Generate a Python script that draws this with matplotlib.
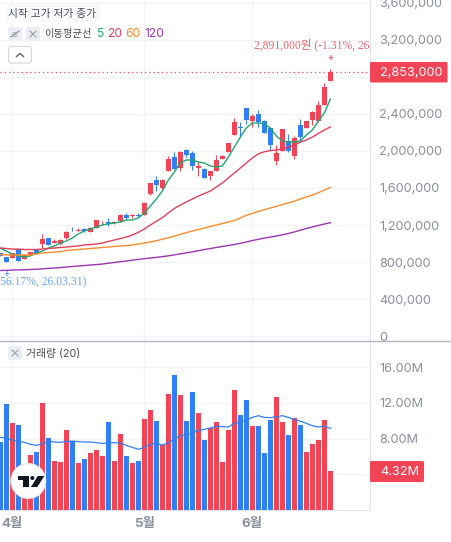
import matplotlib
matplotlib.use("Agg")
import matplotlib.pyplot as plt
from matplotlib.patches import Circle, FancyBboxPatch, Polygon

plt.rcParams['font.family'] = ['Inter', 'Noto Sans CJK KR', 'DejaVu Sans']

# daily prices, in thousands of won
opens = [894, 851, 846, 937, 836, 872, 937, 998, 1056, 1009, 995, 1059, 1149, 1138, 1157, 1128,
         1171, 1218, 1236, 1222, 1240, 1308, 1297, 1308, 1311, 1535, 1683, 1600, 1784, 1935, 1816, 2008,
         1978, 1819, 1805, 1730, 1784, 1914, 1989, 2173, 2259, 2465, 2324, 2400, 2324, 2249, 1892, 2000,
         2108, 1946, 2281, 2249, 2335, 2324, 2497, 2757]
highs = [900, 851, 897, 937, 879, 908, 937, 1103, 1056, 1045, 1049, 1135, 1178, 1168, 1164, 1175,
         1254, 1243, 1276, 1243, 1319, 1330, 1322, 1330, 1445, 1657, 1730, 1697, 1946, 1989, 2000, 2022,
         2000, 1892, 1816, 1784, 1957, 1957, 2086, 2357, 2314, 2465, 2400, 2443, 2335, 2249, 2065, 2238,
         2184, 2162, 2346, 2324, 2432, 2541, 2735, 2891]
lows = [860, 803, 846, 814, 836, 872, 886, 948, 987, 1002, 987, 1052, 1135, 1132, 1121, 1124,
        1168, 1197, 1189, 1208, 1232, 1268, 1279, 1283, 1308, 1524, 1571, 1592, 1784, 1805, 1784, 1938,
        1795, 1730, 1708, 1686, 1784, 1914, 1989, 2173, 2151, 2292, 2259, 2259, 2195, 2011, 1849, 2000,
        1989, 1914, 2097, 2249, 2281, 2314, 2497, 2757]
closes = [865, 803, 897, 814, 879, 908, 886, 1045, 987, 1027, 1038, 1121, 1143, 1146, 1135, 1168,
          1251, 1225, 1208, 1229, 1305, 1276, 1305, 1297, 1438, 1654, 1636, 1690, 1910, 1805, 1989, 1960,
          1838, 1838, 1708, 1784, 1903, 1946, 2086, 2314, 2249, 2335, 2378, 2314, 2195, 2065, 1978, 2238,
          2000, 2141, 2151, 2324, 2422, 2497, 2692, 2853]

ma5 = [951, 919, 886, 865, 854, 865, 897, 919, 951, 973, 1005, 1027, 1059, 1103, 1135, 1157,
       1178, 1200, 1211, 1222, 1232, 1254, 1254, 1276, 1330, 1405, 1481, 1567, 1686, 1773, 1870, 1903,
       1903, 1881, 1870, 1838, 1827, 1838, 1935, 2043, 2151, 2249, 2303, 2303, 2292, 2249, 2162, 2108,
       2097, 2097, 2108, 2173, 2227, 2324, 2411, 2562]
ma20 = [951, 946, 940, 940, 935, 935, 935, 940, 946, 951, 957, 962, 968, 973, 984, 989,
        995, 1005, 1022, 1038, 1054, 1070, 1092, 1120, 1157, 1200, 1240, 1280, 1330, 1378, 1416, 1449,
        1481, 1513, 1540, 1567, 1611, 1654, 1708, 1762, 1816, 1870, 1925, 1968, 1992, 2004, 2012, 2022,
        2043, 2065, 2097, 2119, 2151, 2189, 2227, 2259]
ma60 = [881, 876, 876, 876, 876, 876, 886, 897, 903, 908, 913, 924, 930, 935, 940, 946,
        951, 957, 962, 968, 973, 978, 984, 995, 1005, 1016, 1030, 1046, 1062, 1080, 1098, 1117,
        1135, 1151, 1167, 1184, 1200, 1216, 1232, 1249, 1277, 1305, 1326, 1346, 1365, 1384, 1402, 1420,
        1438, 1459, 1481, 1503, 1524, 1549, 1578, 1607]
ma120 = [708, 710, 713, 715, 717, 719, 722, 726, 731, 735, 740, 746, 751, 757, 762, 768,
         772, 778, 787, 795, 803, 811, 820, 828, 836, 843, 850, 858, 867, 877, 888, 899,
         910, 922, 935, 946, 957, 968, 978, 989, 1002, 1016, 1032, 1045, 1059, 1070, 1081, 1094,
         1108, 1125, 1144, 1162, 1178, 1195, 1211, 1225]

# volume, in millions of shares
volume = [7.62, 11.88, 9.75, 9.52, 2.6, 6.16, 6.5, 12.0, 8.07, 5.49, 5.38, 8.96, 7.73, 5.27, 5.71, 6.39,
          6.72, 6.05, 9.86, 5.49, 8.52, 6.05, 5.27, 5.49, 10.2, 11.2, 9.97, 7.28, 13.0, 15.13, 12.9, 9.97,
          13.22, 10.87, 7.84, 9.19, 9.86, 5.38, 8.96, 13.45, 10.64, 12.33, 9.41, 9.41, 6.39, 10.08, 12.66, 9.86,
          8.4, 10.3, 9.52, 6.5, 7.39, 7.84, 10.08, 4.32]
volume_ma = [8.14, 8.03, 7.84, 7.69, 7.58, 7.36, 7.25, 7.43, 7.69, 7.62, 7.58, 7.69, 7.73, 7.66, 7.62, 7.62,
             7.54, 7.47, 7.51, 7.54, 7.51, 7.25, 7.02, 6.80, 7.02, 7.36, 7.47, 7.28, 7.54, 7.99, 8.29, 8.48,
             8.59, 8.93, 9.04, 9.19, 9.37, 9.34, 9.30, 9.71, 9.86, 10.08, 10.38, 10.57, 10.38, 10.35, 10.46, 10.57,
             10.38, 10.16, 9.94, 9.71, 9.45, 9.30, 9.41, 9.15]

price_ticks = [0, 400, 800, 1200, 1600, 2000, 2400, 2800, 3200, 3600]
price_labels = ['0', '400,000', '800,000', '1,200,000', '1,600,000', '2,000,000', '2,400,000', '', '3,200,000', '3,600,000']
volume_ticks = [4, 8, 12, 16]
volume_labels = ['', '8.00M', '12.00M', '16.00M']
month_pos = [2, 24, 42]
month_labels = ['4월', '5월', '6월']

RED = '#f24455'
BLUE = '#2f7ff6'
GRID = '#f1f3f7'
AXIS = '#e0e3eb'
LABEL = '#8b909c'
W, H = 452, 542

fig = plt.figure(figsize=(W / 100, H / 100), dpi=100, facecolor='white')
ax = fig.add_axes([0, 1 - 340 / H, 370 / W, 340 / H])
ax_vol = fig.add_axes([0, 1 - 510 / H, 370 / W, 169 / H])

days = list(range(len(closes)))
colors = [RED if c >= o else BLUE for o, c in zip(opens, closes)]

# price pane
ax.vlines(days, lows, highs, colors=colors, lw=0.75, zorder=3)
ax.bar(days, [c - o for o, c in zip(opens, closes)], bottom=opens, width=0.84, color=colors, zorder=3)
ax.plot(days, ma5, color='#1fa673', lw=1.0, zorder=4)
ax.plot(days, ma20, color='#e2405a', lw=1.0, zorder=4)
ax.plot(days, ma60, color='#fb8c2c', lw=1.0, zorder=4)
ax.plot(days, ma120, color='#9a36b0', lw=1.0, zorder=4)
ax.axhline(closes[-1], color=RED, lw=0.9, dashes=(1, 2.4), zorder=2)
ax.set_xlim(-0.05, 61.6)
ax.set_ylim(-43, 3632)
ax.set_yticks(price_ticks)
ax.set_yticklabels(price_labels)
ax.set_xticks(month_pos)
ax.set_xticklabels([])

# volume pane
ax_vol.bar(days, volume, width=0.86, color=colors, zorder=3)
ax_vol.plot(days, volume_ma, color=BLUE, lw=0.9, zorder=4)
ax_vol.set_xlim(-0.05, 61.6)
ax_vol.set_ylim(0, 18.94)
ax_vol.set_yticks(volume_ticks)
ax_vol.set_yticklabels(volume_labels)
ax_vol.set_xticks(month_pos)
ax_vol.set_xticklabels(month_labels, fontweight='bold')

for a in (ax, ax_vol):
    a.yaxis.tick_right()
    a.grid(True, color=GRID, lw=1.0, zorder=0)
    a.set_axisbelow(True)
    a.tick_params(axis='y', length=0, pad=6.5, labelsize=9.2, labelcolor=LABEL)
    a.tick_params(axis='x', length=0, pad=6, labelsize=9.6, labelcolor=LABEL)
    for s in ('top', 'left', 'bottom'):
        a.spines[s].set_visible(False)
    a.spines['right'].set_color(AXIS)
ax_vol.spines['bottom'].set_visible(True)
ax_vol.spines['bottom'].set_color(AXIS)

# overlay in pixel coordinates for the chart furniture
ov = fig.add_axes([0, 0, 1, 1], zorder=10)
ov.set_xlim(0, W)
ov.set_ylim(H, 0)
ov.axis('off')

def box(x0, y0, x1, y1, fc, ec='none', r=2, lw=0.8):
    ov.add_patch(FancyBboxPatch((x0 + r, y0 + r), x1 - x0 - 2 * r, y1 - y0 - 2 * r,
                                boxstyle=f'round,pad={r},rounding_size={r}', fc=fc, ec=ec, lw=lw))

ov.plot([0, W], [340.5, 340.5], color='#b2b5be', lw=1.0)

# legend rows
box(6, 5, 100, 22, '#f8f9fa', r=1)
ov.text(8, 13.5, '시작 고가 저가 종가', fontsize=7.7, color='#4a4e57', va='center')
box(8, 27, 22, 41, '#eceef3')
box(26, 27, 40, 41, '#eceef3')
ov.plot([11, 19], [37, 31], color='#8f94a0', lw=0.9)
ov.text(15, 34, '⌀', fontsize=7, color='#a0a4ae', ha='center', va='center', family='DejaVu Sans')
ov.plot([30, 36], [31, 37], color='#a0a4ae', lw=0.9)
ov.plot([30, 36], [37, 31], color='#a0a4ae', lw=0.9)
ov.text(44.5, 34, '이동평균선', fontsize=7.4, color='#4a4e57', va='center')
ov.text(96, 34, '5', fontsize=8.7, color='#1fa673', va='center')
ov.text(107, 34, '20', fontsize=8.7, color='#e2405a', va='center')
ov.text(125, 34, '60', fontsize=8.7, color='#fb8c2c', va='center')
ov.text(144, 34, '120', fontsize=8.7, color='#9a36b0', va='center')
box(8.5, 46.5, 31.5, 63, 'white', ec='#d5d8e0', r=3)
ov.plot([16.5, 20, 23.5], [56.5, 53.5, 56.5], color='#5c606a', lw=1.0)

# volume legend
box(8, 346, 22, 360, '#eceef3')
ov.plot([12, 18], [350, 356], color='#a0a4ae', lw=0.9)
ov.plot([12, 18], [356, 350], color='#a0a4ae', lw=0.9)
ov.text(26, 353.5, '거래량 (20)', fontsize=7.8, color='#4a4e57', va='center')

# last value tags
box(370, 62, 447.5, 82.5, RED, r=1.5)
ov.text(380, 72.5, '2,853,000', fontsize=9.2, color='white', va='center')
box(370, 461, 424, 482, RED, r=1.5)
ov.text(380, 472, '4.32M', fontsize=9.2, color='white', va='center')

# high and low notes
note_font = ['Liberation Serif', 'Noto Sans CJK KR']
high_note = ov.text(254, 45, '2,891,000원 (-1.31%, 26', fontsize=8.4, color='#f4606c', va='center', family=note_font)
high_note.set_clip_box(ax.bbox)
high_note.set_clip_on(True)
ov.text(330, 57.5, '+', fontsize=6.5, color='#f4606c', ha='center', va='center', fontweight='bold')
ov.text(86, 282.5, '56.17%, 26.03.31)', fontsize=8.4, color='#6aa3f5', ha='right', va='center', family=note_font)
ov.text(6, 273.5, '+', fontsize=6.5, color='#6aa3f5', ha='center', va='center', fontweight='bold')

# logo badge
ov.add_patch(Circle((28.3, 481), 18, fc='#e8e9ec', ec='none'))
ov.add_patch(Circle((28.3, 481), 16.7, fc='white', ec='none'))
ov.add_patch(Polygon([(17.7, 476), (29.3, 476), (29.3, 487), (22.7, 487), (22.7, 480.3), (17.7, 480.3)], fc='#131722'))
ov.add_patch(Circle((32.3, 478), 2, fc='#131722'))
ov.add_patch(Polygon([(37.7, 476), (44.3, 476), (37.3, 487), (31, 487)], fc='#131722'))

fig.savefig('out.png', dpi=100)
